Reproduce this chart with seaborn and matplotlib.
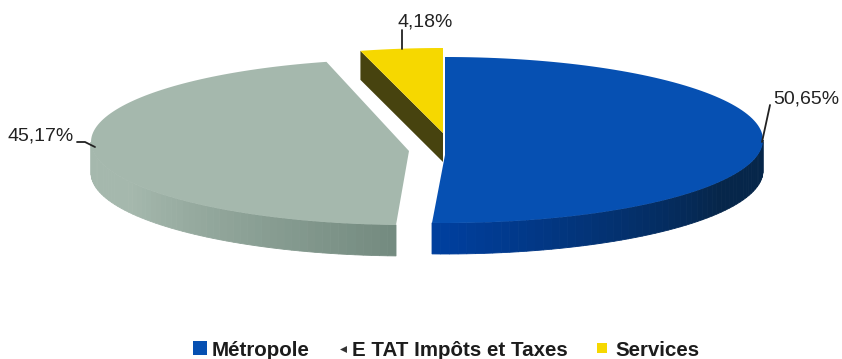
import numpy as np
import matplotlib
matplotlib.use("Agg")
import matplotlib.pyplot as plt
import seaborn as sns
from matplotlib.colors import to_rgb

# Data
categories = ["Métropole", "E TAT Impôts et Taxes", "Services"]
shares = [50.65, 45.17, 4.18]
share_labels = ["50,65%", "45,17%", "4,18%"]

# Styling of the slices
top_colors = ["#0650b2", "#a5b8ad", "#f6d800"]
wall_start = ["#003f9e", "#72897e", "#47430f"]
wall_end = ["#06264a", "#a5b8ad", "#47430f"]
offsets = [(0, 0), (-36, 2), (-2, -9)]
apex_drop = [15, 9, 2]
depths = [31, 31, 29]

sns.set_theme(style="white")
plt.rcParams["font.family"] = ["Liberation Sans", "DejaVu Sans"]

fig = plt.figure(figsize=(8.42, 3.59), dpi=100, facecolor="white")
ax = fig.add_axes([0, 0, 1, 1])
ax.set_xlim(0, 842)
ax.set_ylim(359, 0)
ax.axis("off")

CX, CY, RX, RY = 445, 140, 318, 83


def rim(theta, off, drop=0):
    """Point on the elliptical rim; theta runs clockwise from 12 o'clock, in degrees."""
    t = np.radians(theta)
    return (CX + off[0] + RX * np.sin(t), CY + off[1] + drop - RY * np.cos(t))


# Slice angles derived from the shares
edges = np.concatenate([[0], np.cumsum(shares)]) / sum(shares) * 360

for i in [1, 2, 0]:
    t0, t1 = edges[i], edges[i + 1]
    off, d = offsets[i], depths[i]
    apex = (CX + off[0], CY + off[1] + apex_drop[i])

    # Curved outer wall, only where it faces the viewer (90 to 270 degrees)
    lo, hi = max(t0, 90), min(t1, 270)
    if lo < hi:
        steps = np.linspace(lo, hi, 60)
        c0, c1 = np.array(to_rgb(wall_start[i])), np.array(to_rgb(wall_end[i]))
        span = np.abs(steps[:-1] - 180) / 90
        for a, b, f in zip(steps[:-1], steps[1:], span):
            (xa, ya), (xb, yb) = rim(a, off), rim(b, off)
            col = c0 + (c1 - c0) * min(1, f * 1.5)
            ax.fill([xa, xb, xb, xa], [ya, yb, yb + d, ya + d],
                    color=col, lw=0.6, zorder=2)

    # Cut face of the small slice, seen from its left side
    if i == 2:
        cx0, cy0 = rim(t0, off)
        ax.fill([apex[0], cx0, cx0, apex[0]],
                [apex[1], cy0, cy0 + d, apex[1] + d],
                color=wall_start[i], lw=0, zorder=2)

    # Top face
    arc = [rim(a, off) for a in np.linspace(t0, t1, 120)]
    xs, ys = zip(*([apex] + arc))
    ax.fill(xs, ys, color=top_colors[i], lw=0, zorder=3)

# Leader lines and value labels
leader = "#222222"
ax.plot([762, 770], [142, 105], color=leader, lw=1.3, zorder=4)
ax.plot([77, 85, 95], [142, 142, 147], color=leader, lw=1.3, zorder=4)
ax.plot([402, 402], [49, 30], color=leader, lw=1.3, zorder=4)
label_font = dict(fontsize=14, color="#222222", va="center")
ax.text(773, 99, share_labels[0], ha="left", **label_font)
ax.text(74, 136, share_labels[1], ha="right", **label_font)
ax.text(398, 22, share_labels[2], ha="left", **label_font)

# Legend row
legend_font = dict(fontsize=14.8, fontweight="bold", color="#1c1c1c", va="center")
ax.scatter([199.5], [348], marker="s", s=88, color=top_colors[0], lw=0)
ax.text(212, 350, categories[0], ha="left", **legend_font)
ax.scatter([343], [349], marker="<", s=25, color="#333333", lw=0)
ax.text(352, 350, categories[1], ha="left", **legend_font)
ax.scatter([602], [348], marker="s", s=60, color=top_colors[2], lw=0)
ax.text(615, 350, categories[2], ha="left", **legend_font)

fig.savefig("out.png", dpi=100)
